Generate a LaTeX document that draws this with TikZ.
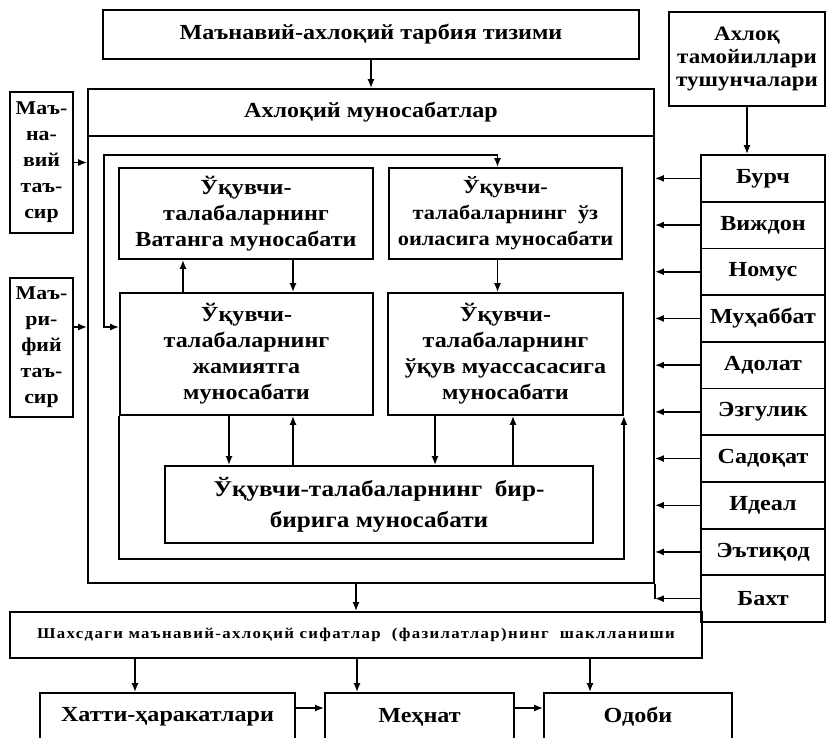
\documentclass[tikz,border=0pt]{standalone}
\usepackage{fontspec}
\setmainfont{Liberation Serif}[FakeStretch=1.12]
\usetikzlibrary{arrows.meta,calc}

\tikzset{
  box/.style={draw, line width=1.8pt, align=center, inner sep=1pt,
    font=\bfseries\fontsize{21.5}{26}\selectfont},
  arr/.style={line width=1.5pt, -{Latex[length=9pt,width=7pt]}},
  link/.style={line width=1.6pt},
}

\begin{document}
\begin{tikzpicture}[x=1pt,y=-1pt]
\useasboundingbox (0,0) rectangle (827,738);
\clip (0,0) rectangle (827,738);

% top and the big frame
\node[box, minimum width=536, minimum height=49] (sys) at (371,34.5) {Маънавий-ахлоқий тарбия тизими};
\node[box, minimum width=566, minimum height=494] (rel) at (371,336) {};
\node[box, minimum width=566, minimum height=47, anchor=north] (relhead) at (rel.north) {Ахлоқий муносабатлар};

% left side
\node[box, minimum width=63, minimum height=141, font=\bfseries\fontsize{19.5}{26}\selectfont] (mtasir) at (41.5,162.5) {Маъ-\\на-\\вий\\таъ-\\сир};
\node[box, minimum width=63, minimum height=139, font=\bfseries\fontsize{19.5}{26}\selectfont] (mrtasir) at (41.5,347.5) {Маъ-\\ри-\\фий\\таъ-\\сир};

% right side
\node[box, minimum width=156, minimum height=94, font=\bfseries\fontsize{20.5}{23}\selectfont] (tamoyil) at (747,59) {Ахлоқ\\тамойиллари\\тушунчалари};
\foreach \w [count=\i] in {Бурч,Виждон,Номус,Муҳаббат,Адолат,Эзгулик,Садоқат,Идеал,Эътиқод,Бахт}
  \node[box, minimum width=124, minimum height=46.7] (l\i) at (763,{155+46.7*(\i-0.5)}) {\w};

% inner boxes
\node[box, minimum width=254, minimum height=91] (vatan) at (246,213.5) {Ўқувчи-\\талабаларнинг\\Ватанга муносабати};
\node[box, minimum width=233, minimum height=91, font=\bfseries\fontsize{20}{26}\selectfont] (oila) at (505.5,213.5) {Ўқувчи-\\талабаларнинг\ \ ўз\\оиласига муносабати};
\node[box, minimum width=253, minimum height=122] (jamiyat) at (246.5,354) {Ўқувчи-\\талабаларнинг\\жамиятга\\муносабати};
\node[box, minimum width=235, minimum height=122] (uquv) at (505.5,354) {Ўқувчи-\\талабаларнинг\\ўқув муассасасига\\муносабати};
\node[box, minimum width=428, minimum height=77, font=\bfseries\fontsize{22.5}{31}\selectfont] (bir) at (379,504.5) {Ўқувчи-талабаларнинг\ \ бир-\\бирига муносабати};

% bottom
\node[box, minimum width=692, minimum height=46, font=\bfseries\fontsize{15}{17}\selectfont\addfontfeatures{LetterSpace=9}] (shaxs) at (356,635) {Шахсдаги маънавий-ахлоқий сифатлар\ \ (фазилатлар)нинг\ \ шаклланиши};
\node[box, minimum width=255, minimum height=48] (xatti) at (167.5,717) {Хатти-ҳаракатлари};
\node[box, minimum width=189, minimum height=48] (mehnat) at (419.5,717) {Меҳнат};
\node[box, minimum width=188, minimum height=48] (odob) at (638,717) {Одоби};

% connectors
\draw[arr] (sys.south) -- (rel.north);
\draw[arr] (mtasir.east) -- (rel.west |- mtasir.east);
\draw[arr] ([yshift=20.5]mrtasir.east) -- ([yshift=20.5]rel.west |- mrtasir.east);
\draw[arr] (tamoyil.south) -- (tamoyil.south |- l1.north);
\foreach \i in {1,...,9}
  \draw[arr] (l\i.west) -- (rel.east |- l\i.west);
\draw[link] (rel.south east) -- (rel.east |- l10.west);
\draw[arr] (l10.west) -- (rel.east |- l10.west);

\coordinate (fl) at (104,155);
\draw[link, {Latex[length=9pt,width=7pt]}-{Latex[length=9pt,width=7pt]}] ([yshift=27]jamiyat.west) -| (fl) -| ([xshift=-8]oila.north);
\draw[link, -{Latex[length=9pt,width=7pt]}] (jamiyat.south west) -- ++(0,143) -| (uquv.south east);

\draw[arr] ([xshift=-63.5]jamiyat.north) -- ([xshift=-63.5]jamiyat.north |- vatan.south);
\draw[arr] ([xshift=46.5]jamiyat.north |- vatan.south) -- ([xshift=46.5]jamiyat.north);
\draw[arr] ([xshift=-8]oila.south) -- ([xshift=-8]oila.south |- uquv.north);
\draw[arr] ([xshift=-17.5]jamiyat.south) -- ([xshift=-17.5]jamiyat.south |- bir.north);
\draw[arr] ([xshift=46.5]jamiyat.south |- bir.north) -- ([xshift=46.5]jamiyat.south);
\draw[arr] ([xshift=-70.5]uquv.south) -- ([xshift=-70.5]uquv.south |- bir.north);
\draw[arr] ([xshift=7.5]uquv.south |- bir.north) -- ([xshift=7.5]uquv.south);

\draw[arr] (rel.south -| shaxs.north) -- (shaxs.north);
\draw[arr] ([xshift=-32.5]xatti.north |- shaxs.south) -- ([xshift=-32.5]xatti.north);
\draw[arr] ([xshift=-62.5]mehnat.north |- shaxs.south) -- ([xshift=-62.5]mehnat.north);
\draw[arr] ([xshift=-48]odob.north |- shaxs.south) -- ([xshift=-48]odob.north);
\draw[arr] ([yshift=9]xatti.east) -- ([yshift=9]mehnat.west);
\draw[arr] ([yshift=9]mehnat.east) -- ([yshift=9]odob.west);
\end{tikzpicture}
\end{document}
